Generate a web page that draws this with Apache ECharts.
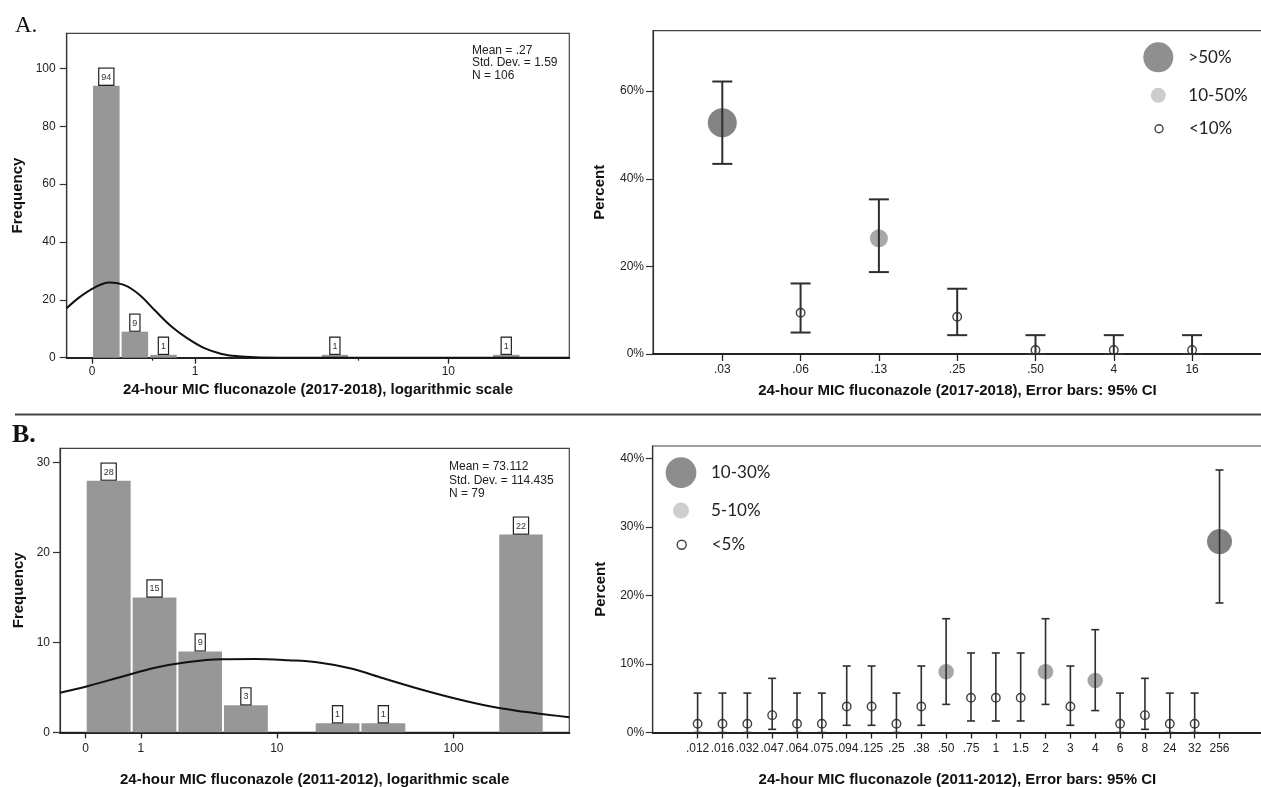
<!DOCTYPE html>
<html><head><meta charset="utf-8">
<script src="https://cdn.jsdelivr.net/npm/echarts@6/dist/echarts.min.js"></script>
<style>html,body{margin:0;padding:0;background:#fff}#c{width:1261px;height:787px}</style>
</head><body><div id="c"></div>
<script>
// ===== Panel A (2017-2018) histogram, safe-log axis =====
const histA_lo = [0, 0.212, 0.469, 3.66, 13.76];      // bin lower edges (MIC)
const histA_hi = [0.212, 0.469, 0.78, 4.64, 16.88];    // bin upper edges (MIC)
const histA_n  = [94, 9, 1, 1, 1];
const histA_ticks = [0, 1, 10];
const histA_minor = [0.5, 5];
const curveA_x = [-0.157, -0.078, 0.02, 0.121, 0.249, 0.381, 0.528, 0.71, 0.911, 1.139, 1.393, 1.671, 1.995, 2.54, 3.64, 23.8];
const curveA_y = [17.1, 21.0, 24.3, 26.0, 25.0, 21.6, 16.3, 10.7, 6.5, 3.2, 1.3, 0.5, 0.15, 0.02, 0, 0];

// ===== Panel A percent with 95% CI =====
const catsA = ['.03', '.06', '.13', '.25', '.50', '4', '16'];
const pctA  = [52.8, 9.4, 26.4, 8.5, 0.9, 0.9, 0.9];
const loA   = [43.4, 4.9, 18.7, 4.3, 0, 0, 0];
const hiA   = [62.2, 16.1, 35.3, 14.9, 4.3, 4.3, 4.3];
const classA = ['L', 'S', 'M', 'S', 'S', 'S', 'S'];

// ===== Panel B (2011-2012) histogram =====
const histB_lo = [0, 0.78, 2.16, 4.6, 16.7, 30.4, 176];
const histB_hi = [0.78, 2.16, 4.6, 8.95, 30.4, 54.8, 312];
const histB_n  = [28, 15, 9, 3, 1, 1, 22];
const histB_ticks = [0, 1, 10, 100];
const curveB_x = [-0.276, 0.033, 0.571, 1.387, 2.625, 4.51, 7.37, 11.7, 17.2, 26.5, 40.9, 62.6, 95.7, 145.8, 222, 338, 431];
const curveB_y = [4.41, 5.16, 6.19, 7.19, 7.83, 8.13, 8.16, 8.02, 7.8, 7.13, 6.01, 4.9, 3.9, 3.04, 2.4, 1.93, 1.67];

// ===== Panel B percent with 95% CI =====
const catsB = ['.012', '.016', '.032', '.047', '.064', '.075', '.094', '.125', '.25', '.38', '.50', '.75', '1', '1.5', '2', '3', '4', '6', '8', '24', '32', '256'];
const pctB  = [1.27, 1.27, 1.27, 2.53, 1.27, 1.27, 3.80, 3.80, 1.27, 3.80, 8.86, 5.06, 5.06, 5.06, 8.86, 3.80, 7.59, 1.27, 2.53, 1.27, 1.27, 27.85];
const loB   = [0, 0, 0, 0.46, 0, 0, 1.05, 1.05, 0, 1.05, 4.1, 1.68, 1.68, 1.68, 4.1, 1.05, 3.2, 0, 0.46, 0, 0, 18.9];
const hiB   = [5.75, 5.75, 5.75, 7.9, 5.75, 5.75, 9.7, 9.7, 5.75, 9.7, 16.6, 11.6, 11.6, 11.6, 16.6, 9.7, 15.0, 5.75, 7.9, 5.75, 5.75, 38.3];
const classB = ['S','S','S','S','S','S','S','S','S','S','M','S','S','S','M','S','M','S','S','S','S','L'];

// ---------------------------------------------------------------
const slog = v => Math.log10(1 + v);           // SPSS "safe log" scale
const fmtLog = v => String(Math.round(Math.pow(10, v) - 1));
const FONT = '"Liberation Sans", Arial, sans-serif';
const tickLabel = {fontFamily: FONT, fontSize: 12, color: '#222'};
const titleStyle = {fontFamily: FONT, fontSize: 15, fontWeight: 'bold', color: '#111'};

function histSeries(xi, yi, lo, hi, n) {
  return {
    type: 'custom', xAxisIndex: xi, yAxisIndex: yi, silent: true, z: 2,
    data: n.map((c, i) => [slog(lo[i]), slog(hi[i]), c]),
    encode: {x: [0, 1], y: 2},
    renderItem(params, api) {
      const a = api.coord([api.value(0), 0]);
      const b = api.coord([api.value(1), api.value(2)]);
      return {
        type: 'rect',
        shape: {x: a[0] + 1, y: b[1], width: b[0] - a[0] - 2, height: a[1] - b[1]},
        style: {fill: '#979797'},
        textContent: {style: {text: String(api.value(2)), font: '9px ' + FONT, fill: '#333',
          backgroundColor: '#fff', borderColor: '#222', borderWidth: 1.2, padding: [4, 2, 3, 2]}},
        textConfig: {position: 'top', distance: 1}
      };
    }
  };
}
function curveSeries(xi, yi, xs, ys) {
  return {type: 'line', xAxisIndex: xi, yAxisIndex: yi, silent: true, z: 4,
    data: xs.map((x, i) => [slog(x), ys[i]]), smooth: 0.35, showSymbol: false,
    lineStyle: {color: '#111', width: 2}};
}
function errSeries(xi, yi, lo, hi, capW, lw) {
  return {
    type: 'custom', xAxisIndex: xi, yAxisIndex: yi, silent: true, z: 6,
    data: lo.map((l, i) => [i, l, hi[i]]),
    encode: {x: 0, y: [1, 2]},
    renderItem(params, api) {
      const x = api.value(0);
      const p1 = api.coord([x, api.value(1)]), p2 = api.coord([x, api.value(2)]);
      const h = capW / 2, st = {stroke: '#2e2e2e', lineWidth: lw};
      return {type: 'group', children: [
        {type: 'line', shape: {x1: p1[0], y1: p1[1], x2: p2[0], y2: p2[1]}, style: st},
        {type: 'line', shape: {x1: p2[0] - h, y1: p2[1], x2: p2[0] + h, y2: p2[1]}, style: st},
        {type: 'line', shape: {x1: p1[0] - h, y1: p1[1], x2: p1[0] + h, y2: p1[1]}, style: st}
      ]};
    }
  };
}
function pts(pct, cls, c) {
  const out = [];
  pct.forEach((p, i) => { if (cls[i] === c) out.push([i, p]); });
  return out;
}
function scatter(name, xi, yi, data, size, style) {
  return {type: 'scatter', name, xAxisIndex: xi, yAxisIndex: yi, data, symbol: 'circle',
    symbolSize: size, itemStyle: style, silent: true, z: 3, emphasis: {disabled: true}};
}
function legend(name, cx, cy, d, textX, color, hollow) {
  return {
    show: true, selectedMode: false, orient: 'vertical', left: cx - d / 2, top: cy - d / 2, padding: 0,
    itemWidth: d, itemHeight: d,
    data: [{name, icon: 'circle', itemStyle: hollow
      ? {color: '#fff', borderColor: '#111', borderWidth: 1.4}
      : {color, borderWidth: 0}}],
    textStyle: {fontFamily: 'Lato, "Open Sans", sans-serif', fontSize: 17, color: '#222',
      padding: [0, 0, 0, Math.max(0, textX - (cx + d / 2 + 5))]}
  };
}

const gridBase = {show: true, borderColor: '#444', borderWidth: 1.2, containLabel: false, outerBoundsMode: 'none'};
const yBase = (gi, max, vals, fmt, margin, name, gap) => ({
  gridIndex: gi, type: 'value', min: 0, max,
  axisLine: {show: true, onZero: false, lineStyle: {color: '#333', width: 1.2}},
  axisTick: {show: true, customValues: vals, length: 7, lineStyle: {color: '#333', width: 1.2}},
  axisLabel: Object.assign({customValues: vals, formatter: fmt, margin}, tickLabel),
  splitLine: {show: false},
  name, nameLocation: 'middle', nameGap: gap, nameRotate: 90, nameTextStyle: titleStyle
});
const xLine = {show: true, onZero: false, lineStyle: {color: '#222', width: 2}};

const option = {
  backgroundColor: '#fff',
  animation: false,
  grid: [
    Object.assign({left: 66.7, top: 33.3, width: 502.6, height: 324.4}, gridBase),
    Object.assign({left: 653, top: 30.7, width: 609, height: 323.3}, gridBase),
    Object.assign({left: 60, top: 448.3, width: 509.3, height: 284}, gridBase),
    Object.assign({left: 652.7, top: 446, width: 609.3, height: 286.5}, gridBase)
  ],
  xAxis: [
    {gridIndex: 0, type: 'value', min: -0.074, max: 1.395, axisLine: xLine,
      axisTick: {customValues: histA_ticks.map(slog), length: 6, lineStyle: {color: '#222', width: 1.3}},
      axisLabel: Object.assign({customValues: histA_ticks.map(slog), formatter: fmtLog, margin: 8}, tickLabel),
      splitLine: {show: false},
      name: '24-hour MIC fluconazole (2017-2018), logarithmic scale', nameLocation: 'middle', nameGap: 25, nameTextStyle: titleStyle},
    {gridIndex: 0, type: 'value', min: -0.074, max: 1.395, position: 'bottom', axisLine: {show: false, onZero: false},
      axisTick: {customValues: histA_minor.map(slog), length: 3, lineStyle: {color: '#222', width: 1.2}},
      axisLabel: {show: false}, splitLine: {show: false}},
    {gridIndex: 1, type: 'value', min: -0.885, max: 6.893, axisLine: xLine,
      axisTick: {customValues: catsA.map((c, i) => i), length: 7, lineStyle: {color: '#222', width: 1.3}},
      axisLabel: Object.assign({customValues: catsA.map((c, i) => i), formatter: v => catsA[Math.round(v)], margin: 10}, tickLabel),
      splitLine: {show: false},
      name: '24-hour MIC fluconazole (2017-2018), Error bars: 95% CI', nameLocation: 'middle', nameGap: 29, nameTextStyle: titleStyle},
    {gridIndex: 2, type: 'value', min: -0.140, max: 2.635, axisLine: xLine,
      axisTick: {customValues: histB_ticks.map(slog), length: 6, lineStyle: {color: '#222', width: 1.3}},
      axisLabel: Object.assign({customValues: histB_ticks.map(slog), formatter: fmtLog, margin: 10}, tickLabel),
      splitLine: {show: false},
      name: '24-hour MIC fluconazole (2011-2012), logarithmic scale', nameLocation: 'middle', nameGap: 40, nameTextStyle: titleStyle},
    {gridIndex: 3, type: 'value', min: -1.807, max: 22.71, axisLine: xLine,
      axisTick: {customValues: catsB.map((c, i) => i), length: 6, lineStyle: {color: '#222', width: 1.3}},
      axisLabel: Object.assign({customValues: catsB.map((c, i) => i), formatter: v => catsB[Math.round(v)], margin: 10}, tickLabel),
      splitLine: {show: false},
      name: '24-hour MIC fluconazole (2011-2012), Error bars: 95% CI', nameLocation: 'middle', nameGap: 40, nameTextStyle: titleStyle}
  ],
  yAxis: [
    yBase(0, 112.1, [0, 20, 40, 60, 80, 100], v => String(v), 11, 'Frequency', 41),
    yBase(1, 73.8, [0, 20, 40, 60], v => v + '%', 9, 'Percent', 46),
    yBase(2, 31.6, [0, 10, 20, 30], v => String(v), 10, 'Frequency', 34),
    yBase(3, 41.8, [0, 10, 20, 30, 40], v => v + '%', 8.5, 'Percent', 44)
  ],
  legend: [
    legend('>50%', 1158.3, 57.3, 30, 1188.3, '#737373'),
    legend('10-50%', 1158.3, 94.3, 15, 1188.3, '#bfbfbf'),
    legend('<10%', 1158.3, 124.3, 8, 1188.3, null, true),
    legend('10-30%', 681, 472.7, 30.7, 711, '#717171'),
    legend('5-10%', 681, 510, 16, 711, '#c2c2c2'),
    legend('<5%', 681, 540.7, 9, 711, null, true)
  ],
  series: [
    histSeries(0, 0, histA_lo, histA_hi, histA_n),
    curveSeries(0, 0, curveA_x, curveA_y),
    scatter('>50%', 2, 1, pts(pctA, classA, 'L'), 29, {color: '#656565'}),
    scatter('10-50%', 2, 1, pts(pctA, classA, 'M'), 18, {color: '#929292'}),
    scatter('<10%', 2, 1, pts(pctA, classA, 'S'), 8.5, {color: '#fff', borderColor: '#111', borderWidth: 1.4}),
    errSeries(2, 1, loA, hiA, 20, 2),
    histSeries(3, 2, histB_lo, histB_hi, histB_n),
    curveSeries(3, 2, curveB_x, curveB_y),
    scatter('10-30%', 4, 3, pts(pctB, classB, 'L'), 25, {color: '#616161'}),
    scatter('5-10%', 4, 3, pts(pctB, classB, 'M'), 15.5, {color: '#909090'}),
    scatter('<5%', 4, 3, pts(pctB, classB, 'S'), 8.5, {color: '#fff', borderColor: '#111', borderWidth: 1.4}),
    errSeries(4, 3, loB, hiB, 8, 1.6)
  ],
  graphic: [
    {type: 'text', left: 15, top: 14, style: {text: 'A.', font: '23px "Liberation Serif", serif', fill: '#111'}},
    {type: 'text', left: 12, top: 422, style: {text: 'B.', font: 'bold 26px "Liberation Serif", serif', fill: '#111'}},
    {type: 'line', shape: {x1: 15, y1: 414.5, x2: 1261, y2: 414.5}, style: {stroke: '#444', lineWidth: 2}},
    {type: 'text', left: 472, top: 44, style: {text: 'Mean = .27\nStd. Dev. = 1.59\nN = 106', font: '12px ' + FONT, lineHeight: 12.5, fill: '#222'}},
    {type: 'text', left: 449, top: 460.5, style: {text: 'Mean = 73.112\nStd. Dev. = 114.435\nN = 79', font: '12px ' + FONT, lineHeight: 13.3, fill: '#222'}}
  ]
};
const chart = echarts.init(document.getElementById('c'), null, {renderer: 'canvas'});
chart.setOption(option);
</script>
</body></html>
